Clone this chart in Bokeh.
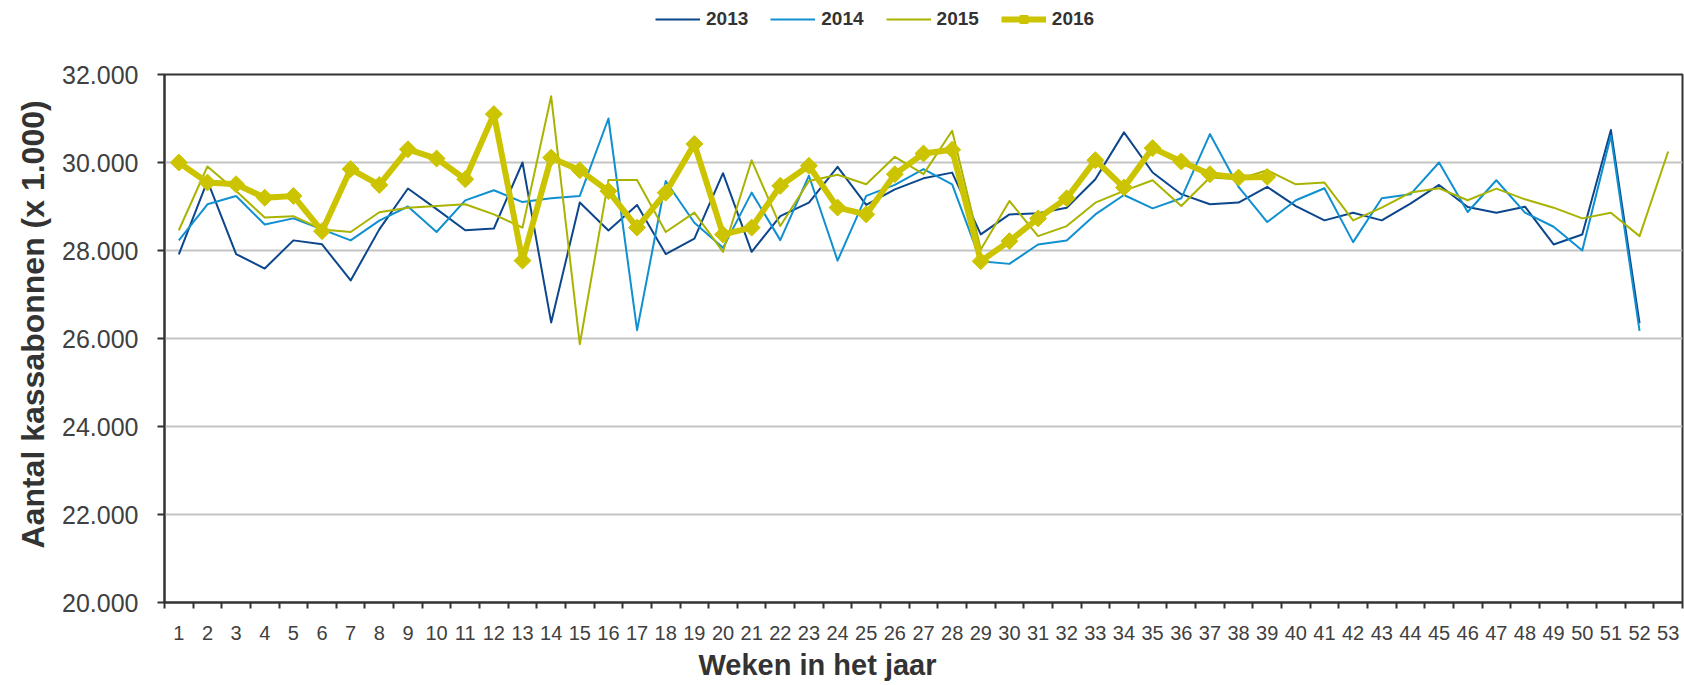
from bokeh.plotting import figure
from bokeh.layouts import column
from bokeh.models import Range1d, FixedTicker, Legend, LegendItem, Title
from bokeh.embed import file_html
from bokeh.resources import INLINE

# ---- data ----
weeks_2013 = list(range(1, 53))
sales_2013 = [27910, 29580, 27920, 27590, 28230, 28140, 27320, 28480, 29410, 28940,
              28460, 28500, 30000, 26365, 29090, 28455, 29035, 27920, 28270, 29757,
              27970, 28780, 29090, 29900, 29035, 29390, 29640, 29770, 28365, 28820,
              28845, 28973, 29620, 30685, 29772, 29280, 29050, 29090, 29445, 29010,
              28685, 28860, 28685, 29065, 29490, 28990, 28860, 28996, 28137, 28365,
              30738, 26350]

weeks_2014 = list(range(1, 53))
sales_2014 = [28230, 29050, 29240, 28590, 28730, 28480, 28230, 28680, 29000, 28420,
              29140, 29370, 29100, 29190, 29240, 31000, 26190, 29580, 28630, 28060,
              29315, 28236, 29700, 27770, 29240, 29490, 29850, 29505, 27757, 27696,
              28137, 28228, 28820, 29262, 28958, 29186, 30646, 29445, 28646, 29141,
              29414, 28190, 29186, 29277, 30000, 28874, 29597, 28860, 28540, 28000,
              30608, 26175]

weeks_2015 = list(range(1, 54))
sales_2015 = [28460, 29910, 29350, 28750, 28780, 28480, 28420, 28870, 28970, 29010,
              29050, 28820, 28520, 31505, 25870, 29600, 29600, 28420, 28860, 27970,
              30050, 28555, 29580, 29720, 29505, 30130, 29735, 30720, 28023, 29125,
              28327, 28555, 29087, 29354, 29597, 29011, 29658, 29620, 29825, 29505,
              29544, 28685, 28973, 29316, 29414, 29141, 29407, 29163, 28973, 28730,
              28860, 28327, 30250]

weeks_2016 = list(range(1, 40))
sales_2016 = [30000, 29544, 29506, 29200, 29240, 28440, 29850, 29490, 30300, 30090,
              29620, 31100, 27770, 30110, 29825, 29350, 28520, 29315, 30420, 28365,
              28520, 29470, 29925, 28975, 28820, 29735, 30205, 30290, 27757, 28213,
              28730, 29186, 30053, 29430, 30327, 30023, 29734, 29658, 29673]

series_names = ["2013", "2014", "2015", "2016"]
x_ticks = list(range(1, 54))
y_ticks = [20000, 22000, 24000, 26000, 28000, 30000, 32000]
y_tick_labels = ["20.000", "22.000", "24.000", "26.000", "28.000", "30.000", "32.000"]

FONT = "Liberation Sans"
TXT = "#333333"
colors = ["#0C468C", "#1090D0", "#A9B300", "#CCC400"]
widths = [2, 2, 2, 6]
all_weeks = [weeks_2013, weeks_2014, weeks_2015, weeks_2016]
all_sales = [sales_2013, sales_2014, sales_2015, sales_2016]

LEG_H = 40

p = figure(width=1684, height=685 - LEG_H, output_backend="svg", toolbar_location=None,
           x_range=Range1d(0.5, 53.5), y_range=Range1d(20000, 32000),
           min_border_left=164, min_border_right=2, min_border_top=74 - LEG_H,
           min_border_bottom=83)

p.outline_line_color = TXT
p.outline_line_width = 2
p.xgrid.grid_line_color = None
p.ygrid.grid_line_color = "#c4c4c4"
p.ygrid.grid_line_width = 2
p.background_fill_color = "white"
p.border_fill_color = "white"

# y axis
p.yaxis.ticker = FixedTicker(ticks=y_ticks)
p.yaxis.major_label_overrides = {t: l for t, l in zip(y_ticks, y_tick_labels)}
p.yaxis.major_label_text_font = FONT
p.yaxis.major_label_text_font_size = "25px"
p.yaxis.major_label_text_color = "#404040"
p.yaxis.major_tick_in = 0
p.yaxis.major_tick_out = 7
p.yaxis.major_tick_line_width = 2
p.yaxis.major_tick_line_color = TXT
p.yaxis.minor_tick_line_color = None
p.yaxis.axis_line_color = TXT
p.yaxis.axis_line_width = 2
p.yaxis.major_label_standoff = 19

y_title = Title(text="Aantal kassabonnen (x 1.000)", align="left", offset=54,
                text_font=FONT, text_font_size="32px", text_font_style="bold",
                text_color=TXT, standoff=18, text_line_height=1.0)
p.add_layout(y_title, "left")

# x axis: labels at week centers, tick marks between weeks
p.xaxis.ticker = FixedTicker(ticks=x_ticks, minor_ticks=[w - 0.5 for w in x_ticks] + [53.5])
p.xaxis.major_label_text_font = FONT
p.xaxis.major_label_text_font_size = "20px"
p.xaxis.major_label_text_line_height = 1.0
p.xaxis.major_label_text_color = "#404040"
p.xaxis.major_tick_in = 0
p.xaxis.major_tick_out = 0
p.xaxis.minor_tick_in = 0
p.xaxis.minor_tick_out = 6
p.xaxis.minor_tick_line_width = 2
p.xaxis.minor_tick_line_color = TXT
p.xaxis.axis_line_color = TXT
p.xaxis.axis_line_width = 2
p.xaxis.major_label_standoff = 17

x_title = Title(text="Weken in het jaar", align="left", offset=534,
                text_font=FONT, text_font_size="29px", text_font_style="bold",
                text_color=TXT, standoff=9, text_line_height=1.0)
p.add_layout(x_title, "below")

# series
for wk, sl, col, w in zip(all_weeks, all_sales, colors, widths):
    p.line(wk, sl, line_color=col, line_width=w, line_join="round")
p.scatter(weeks_2016, sales_2016, marker="square", angle=0.785398, size=12,
          fill_color=colors[3], line_color=colors[3])

# legend strip above the chart: same series, drawn outside its (0..1) y range so
# only the legend keys show
lf = figure(width=1684, height=LEG_H, output_backend="svg", toolbar_location=None,
            x_axis_location=None, y_axis_location=None,
            x_range=Range1d(0.5, 53.5), y_range=Range1d(0, 1),
            min_border_left=0, min_border_right=0, min_border_top=0, min_border_bottom=0)
lf.outline_line_color = None
lf.grid.grid_line_color = None
lf.background_fill_color = "white"
lf.border_fill_color = "white"
items = []
for name, wk, sl, col, w in zip(series_names, all_weeks, all_sales, colors, widths):
    rl = lf.line(wk, sl, line_color=col, line_width=w)
    rends = [rl]
    if name == "2016":
        rends.append(lf.scatter(wk, sl, marker="square", angle=0.785398, size=12,
                                fill_color=col, line_color=col))
    items.append(LegendItem(label=name, renderers=rends))

legend = Legend(items=items, orientation="horizontal", location=(491, 10),
                label_text_font=FONT, label_text_font_size="19px",
                label_text_font_style="bold", label_text_color=TXT,
                glyph_width=45, glyph_height=20, label_standoff=6, spacing=22,
                padding=0, margin=0, background_fill_alpha=0, border_line_alpha=0)
lf.add_layout(legend)

layout = column(lf, p, spacing=0)
open("out.html", "w").write(file_html(layout, INLINE))
